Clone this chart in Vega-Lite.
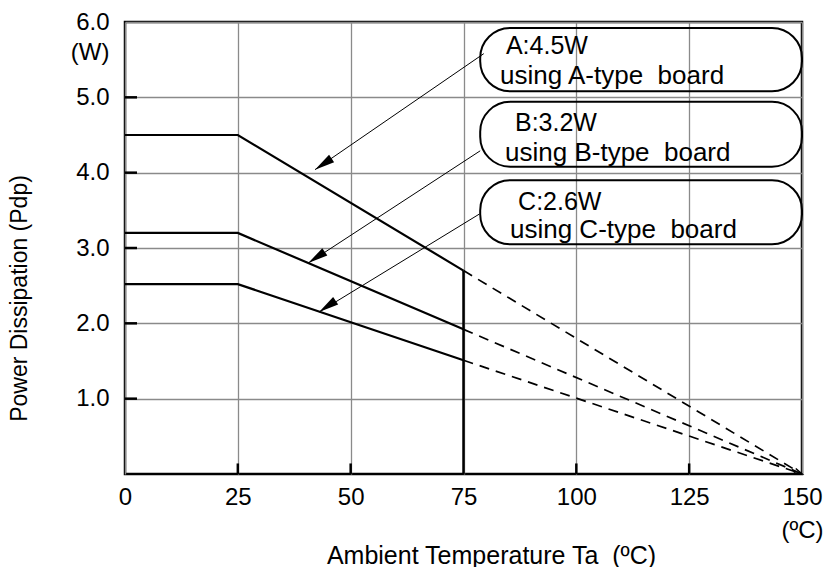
{
  "$schema": "https://vega.github.io/schema/vega-lite/v6.json",
  "width": 677,
  "height": 452,
  "autosize": {"type": "none"},
  "padding": {"left": 125, "top": 22, "right": 27, "bottom": 93},
  "background": "white",
  "config": {
    "view": {"stroke": "black", "strokeWidth": 2.5},
    "font": "Liberation Sans"
  },
  "datasets": {
    "curves": [
      {"s": "A", "x": 0, "y": 4.5}, {"s": "A", "x": 25, "y": 4.5}, {"s": "A", "x": 75, "y": 2.7},
      {"s": "B", "x": 0, "y": 3.2}, {"s": "B", "x": 25, "y": 3.2}, {"s": "B", "x": 75, "y": 1.92},
      {"s": "C", "x": 0, "y": 2.52}, {"s": "C", "x": 25, "y": 2.52}, {"s": "C", "x": 75, "y": 1.51}
    ],
    "derate": [
      {"s": "A", "x": 75, "y": 2.7}, {"s": "A", "x": 150, "y": 0},
      {"s": "B", "x": 75, "y": 1.92}, {"s": "B", "x": 150, "y": 0},
      {"s": "C", "x": 75, "y": 1.51}, {"s": "C", "x": 150, "y": 0}
    ],
    "limit": [{"x": 75, "y": 0, "y2": 2.7}],
    "yticks": [
      {"x": 0, "x2": 2.66, "y": 1}, {"x": 0, "x2": 2.66, "y": 2}, {"x": 0, "x2": 2.66, "y": 3},
      {"x": 0, "x2": 2.66, "y": 4}, {"x": 0, "x2": 2.66, "y": 5}
    ],
    "xticks": [
      {"x": 25, "y": 0, "y2": 0.14}, {"x": 50, "y": 0, "y2": 0.14},
      {"x": 100, "y": 0, "y2": 0.14}, {"x": 125, "y": 0, "y2": 0.14}
    ],
    "boxes": [
      {"s": "A", "x": 78.7, "x2": 150, "y": 5.08, "y2": 5.92},
      {"s": "B", "x": 78.7, "x2": 150, "y": 4.08, "y2": 4.94},
      {"s": "C", "x": 78.7, "x2": 150, "y": 3.05, "y2": 3.9}
    ],
    "arrows": [
      {"s": "A", "x": 79.5, "y": 5.58, "x2": 42.1, "y2": 4.04},
      {"s": "B", "x": 78.7, "y": 4.29, "x2": 40.6, "y2": 2.8},
      {"s": "C", "x": 78.5, "y": 3.45, "x2": 43.0, "y2": 2.15}
    ],
    "tips": [
      {"s": "A", "x": 42.1, "y": 4.04},
      {"s": "B", "x": 40.6, "y": 2.8},
      {"s": "C", "x": 43.0, "y": 2.15}
    ],
    "ends": [{"x": 150, "y": 0}],
    "heads": [
      {"t": "A:4.5W", "x": 84.4, "y": 5.58},
      {"t": "B:3.2W", "x": 86.4, "y": 4.55},
      {"t": "C:2.6W", "x": 87.1, "y": 3.5}
    ],
    "subs": [
      {"t": "using A-type\u00a0 board", "x": 83.1, "y": 5.18},
      {"t": "using B-type\u00a0 board", "x": 84.2, "y": 4.15},
      {"t": "using C-type\u00a0 board", "x": 85.3, "y": 3.13}
    ]
  },
  "encoding": {
    "x": {
      "field": "x", "type": "quantitative",
      "scale": {"domain": [0, 150], "nice": false, "zero": false},
      "axis": {
        "values": [0, 25, 50, 75, 100, 125, 150],
        "labelExpr": "datum.value == 150 ? ['150', '(ºC)'] : datum.label",
        "labelFontSize": 24, "labelColor": "black", "labelPadding": 11, "labelLineHeight": 33,
        "labelFlush": false, "labelOverlap": false,
        "ticks": false,
        "domain": false,
        "grid": true, "gridColor": "#8a8a8a", "gridWidth": 1.3,
        "title": "Ambient Temperature Ta\u00a0 (ºC)",
        "titleFontSize": 25, "titleFontWeight": "normal", "titleColor": "black",
        "titleX": 366, "titleY": 89, "titleBaseline": "alphabetic", "titleAlign": "center"
      }
    },
    "y": {
      "field": "y", "type": "quantitative",
      "scale": {"domain": [0, 6], "nice": false, "zero": false},
      "axis": {
        "values": [1, 2, 3, 4, 5, 6],
        "labelExpr": "datum.value == 6 ? ['6.0', '(W)'] : format(datum.value, '.1f')",
        "labelFontSize": 24, "labelColor": "black", "labelPadding": 16, "labelLineHeight": 30,
        "labelFlush": false, "labelOverlap": false,
        "ticks": false,
        "domain": false,
        "grid": true, "gridColor": "#8a8a8a", "gridWidth": 1.3,
        "title": "Power Dissipation (Pdp)",
        "titleFontSize": 23, "titleFontWeight": "normal", "titleColor": "black",
        "titleX": -106, "titleY": 276, "titleAngle": -90, "titleBaseline": "middle", "titleAlign": "center",
        "encode": {"labels": {"update": {"dy": {"signal": "datum.value == 6 ? 15 : 0"}}}}
      }
    }
  },
  "layer": [
    {
      "data": {"name": "boxes"},
      "mark": {"type": "rect", "fillOpacity": 0, "stroke": "black", "strokeWidth": 2, "cornerRadius": 30},
      "encoding": {"x2": {"field": "x2"}, "y2": {"field": "y2"}}
    },
    {
      "data": {"name": "yticks"},
      "mark": {"type": "rule", "color": "black", "strokeWidth": 2.5},
      "encoding": {"x2": {"field": "x2"}}
    },
    {
      "data": {"name": "xticks"},
      "mark": {"type": "rule", "color": "black", "strokeWidth": 2.5},
      "encoding": {"y2": {"field": "y2"}}
    },
    {
      "data": {"name": "curves"},
      "mark": {"type": "line", "color": "black", "strokeWidth": 2.2},
      "encoding": {"detail": {"field": "s"}}
    },
    {
      "data": {"name": "limit"},
      "mark": {"type": "rule", "color": "black", "strokeWidth": 2.5},
      "encoding": {"y2": {"field": "y2"}}
    },
    {
      "data": {"name": "derate"},
      "mark": {"type": "line", "color": "black", "strokeWidth": 1.7, "strokeDash": [10, 7]},
      "encoding": {"detail": {"field": "s"}}
    },
    {
      "data": {"name": "arrows"},
      "mark": {"type": "rule", "color": "black", "strokeWidth": 1},
      "encoding": {"x2": {"field": "x2"}, "y2": {"field": "y2"}}
    },
    {
      "data": {"name": "tips"},
      "mark": {"type": "point", "shape": "M0,0L0.45,2L-0.45,2Z", "filled": true, "color": "black", "size": 400, "angle": 236, "opacity": 1},
      "encoding": {}
    },
    {
      "data": {"name": "ends"},
      "mark": {"type": "point", "shape": "M-0.6,2L0,0L0.6,2", "filled": false, "color": "black", "strokeWidth": 1.5, "size": 64, "angle": 115, "opacity": 1},
      "encoding": {}
    },
    {
      "data": {"name": "heads"},
      "mark": {"type": "text", "align": "left", "baseline": "alphabetic", "fontSize": 25, "color": "black"},
      "encoding": {"text": {"field": "t"}}
    },
    {
      "data": {"name": "subs"},
      "mark": {"type": "text", "align": "left", "baseline": "alphabetic", "fontSize": 26, "color": "black"},
      "encoding": {"text": {"field": "t"}}
    }
  ]
}
